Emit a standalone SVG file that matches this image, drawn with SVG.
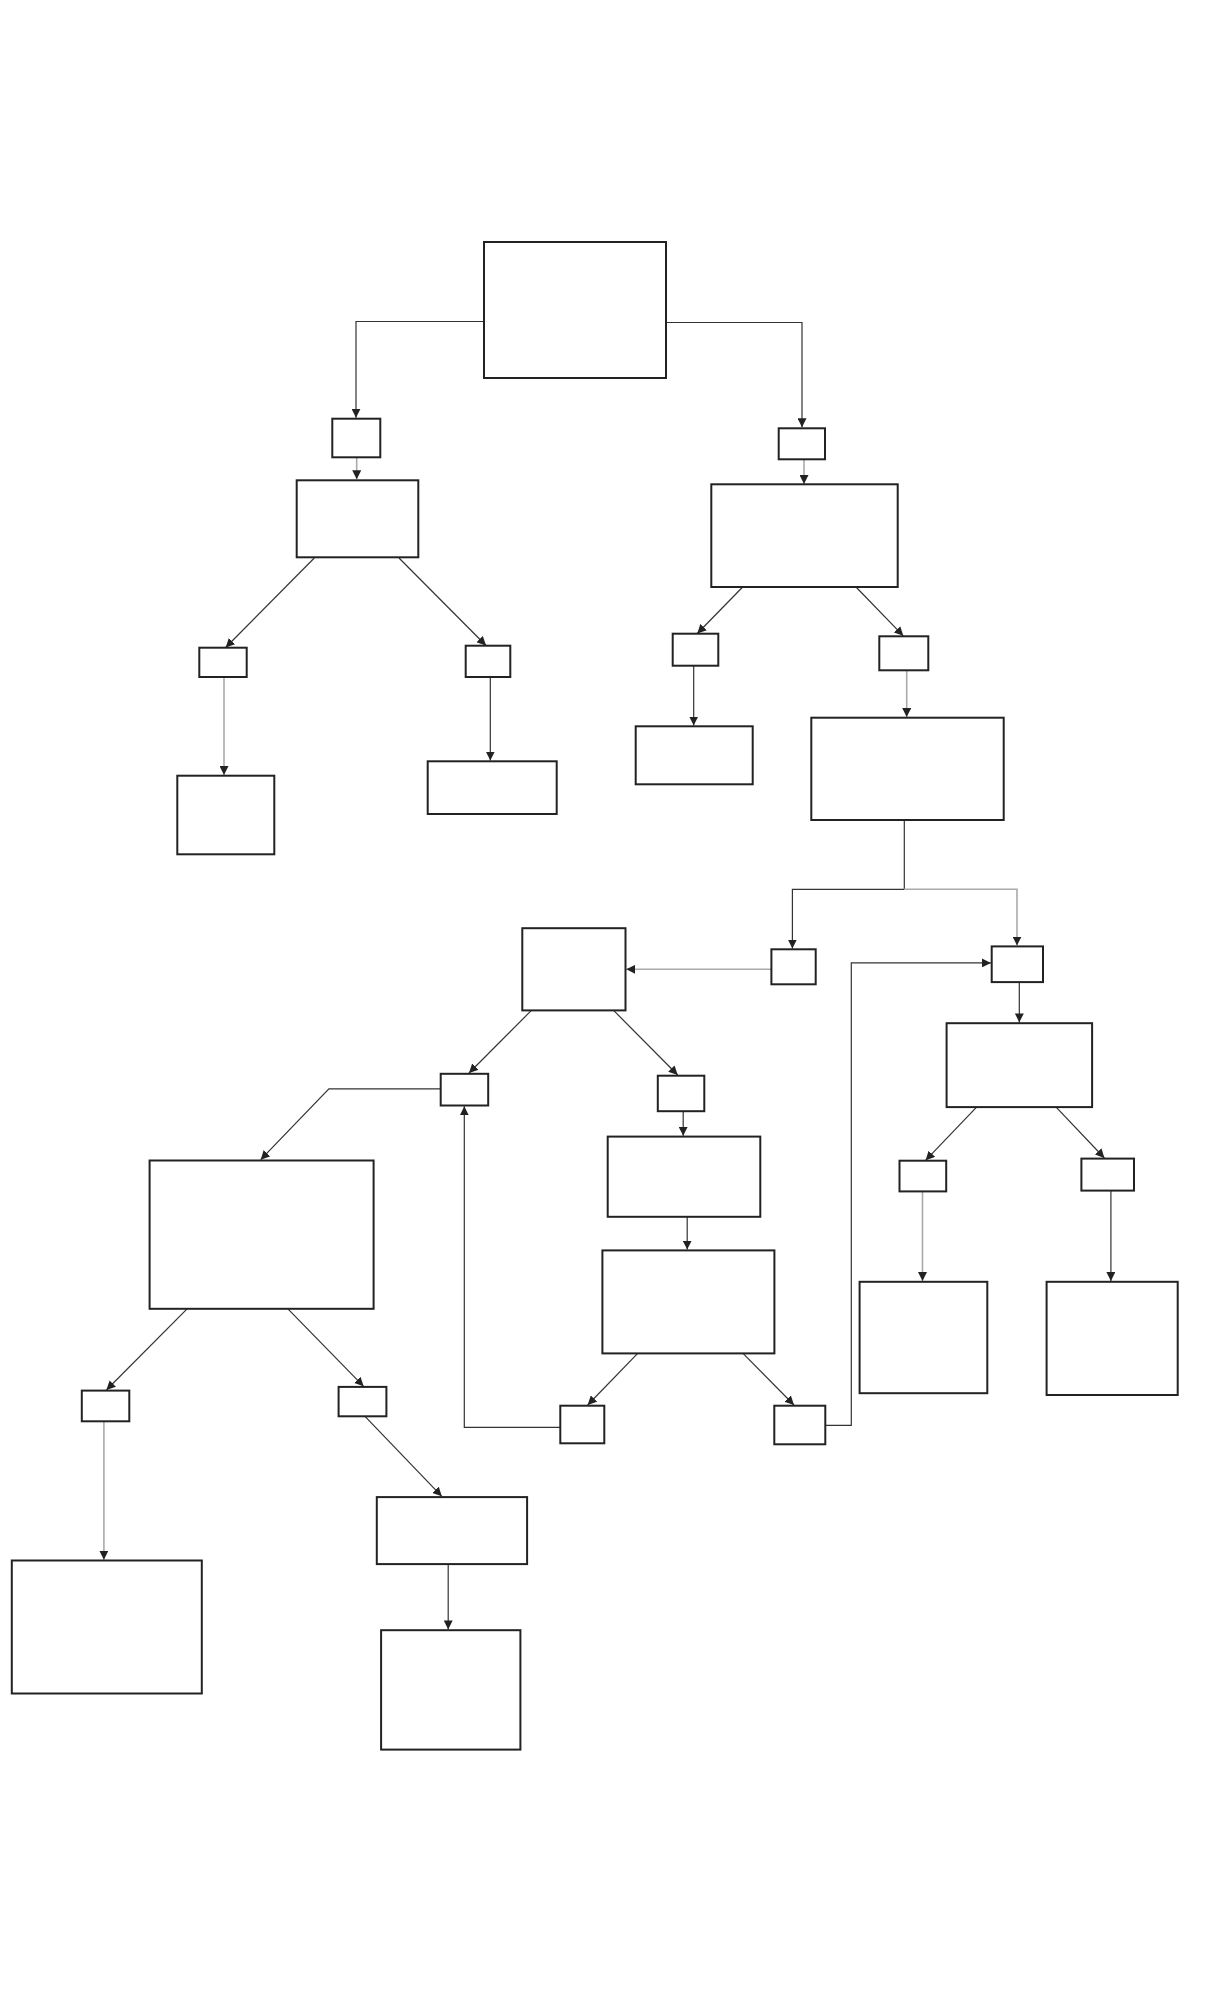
<svg xmlns="http://www.w3.org/2000/svg" width="1224" height="2016" viewBox="0 0 1224 2016">
<style>
.box{fill:#fff;stroke:#222;stroke-width:2}
.c{fill:none;stroke:#333;stroke-width:1.2}
.g{fill:none;stroke:#aaa;stroke-width:1.6}
</style>
<defs>
<marker id="ah" viewBox="0 0 10 10" refX="10" refY="5" markerWidth="9" markerHeight="9" markerUnits="userSpaceOnUse" orient="auto">
<path d="M0,0 L10,5 L0,10 z" fill="#222"/>
</marker>
</defs>
<rect width="1224" height="2016" fill="#fff"/>
<g id="connectors">
<path class="c" marker-end="url(#ah)" d="M484,321.5 H356 V417.7"/>
<path class="c" marker-end="url(#ah)" d="M666,322.5 H802 V427.3"/>
<path class="g" marker-end="url(#ah)" d="M356.7,457.3 V479.3"/>
<path class="c" marker-end="url(#ah)" d="M314.3,558 L225.7,647.5"/>
<path class="c" marker-end="url(#ah)" d="M399,558 L486,645.5"/>
<path class="g" marker-end="url(#ah)" d="M224,677 V775"/>
<path class="c" marker-end="url(#ah)" d="M490.3,677 V760.5"/>
<path class="g" marker-end="url(#ah)" d="M804,459.3 V484"/>
<path class="c" marker-end="url(#ah)" d="M742.7,587 L697.3,633.5"/>
<path class="c" marker-end="url(#ah)" d="M856,587 L903.3,635.8"/>
<path class="c" marker-end="url(#ah)" d="M693.7,666 V725.5"/>
<path class="g" marker-end="url(#ah)" d="M906.7,670.3 V717"/>
<path class="c" d="M904.3,820 V889.3"/>
<path class="c" marker-end="url(#ah)" d="M904.3,889.3 H792.4 V948.5"/>
<path class="g" marker-end="url(#ah)" d="M904.3,889.3 H1017 V945.6"/>
<path class="g" marker-end="url(#ah)" d="M771.4,969.3 H626.3"/>
<path class="c" marker-end="url(#ah)" d="M1019.3,982.1 V1022.4"/>
<path class="c" marker-end="url(#ah)" d="M976.6,1107.1 L925.6,1160.3"/>
<path class="c" marker-end="url(#ah)" d="M1056.1,1107.1 L1104.4,1158"/>
<path class="g" marker-end="url(#ah)" d="M922.5,1191.4 V1281"/>
<path class="c" marker-end="url(#ah)" d="M1110.9,1190.6 V1281"/>
<path class="c" marker-end="url(#ah)" d="M531.4,1010.4 L469,1073"/>
<path class="c" marker-end="url(#ah)" d="M613.6,1010.4 L677.7,1075"/>
<path class="c" marker-end="url(#ah)" d="M683.2,1111.2 V1135.8"/>
<path class="c" marker-end="url(#ah)" d="M687.2,1216.8 V1249.6"/>
<path class="c" marker-end="url(#ah)" d="M637.7,1353.4 L587.7,1405"/>
<path class="c" marker-end="url(#ah)" d="M743,1353.4 L794,1405"/>
<path class="c" marker-end="url(#ah)" d="M560.3,1427.3 H464.3 V1106.3"/>
<path class="c" marker-end="url(#ah)" d="M825.3,1425.3 H851.3 V962.9 H990.9"/>
<path class="c" marker-end="url(#ah)" d="M440.7,1088.9 H328.9 L260.7,1159.7"/>
<path class="c" marker-end="url(#ah)" d="M187.1,1308.8 L106.4,1390"/>
<path class="c" marker-end="url(#ah)" d="M287.9,1308.8 L363.6,1386.3"/>
<path class="g" marker-end="url(#ah)" d="M103.9,1421.3 V1559.8"/>
<path class="c" marker-end="url(#ah)" d="M365,1416.3 L441.8,1496.3"/>
<path class="c" marker-end="url(#ah)" d="M448.2,1564.1 V1629.4"/>
</g>
<g id="n-top"><rect class="box" x="484" y="242" width="182" height="136"/></g>
<g id="n-l1"><rect class="box" x="332.3" y="418.7" width="48" height="38.6"/></g>
<g id="n-l2"><rect class="box" x="296.7" y="480.3" width="121.6" height="77"/></g>
<g id="n-l3a"><rect class="box" x="199.3" y="647.7" width="47.4" height="29.3"/></g>
<g id="n-l3b"><rect class="box" x="465.7" y="645.7" width="44.6" height="31.3"/></g>
<g id="n-l4a"><rect class="box" x="177.3" y="775.7" width="97" height="78.6"/></g>
<g id="n-l4b"><rect class="box" x="427.7" y="761.3" width="129" height="52.7"/></g>
<g id="n-r1"><rect class="box" x="778.7" y="428.3" width="46.3" height="31"/></g>
<g id="n-r2"><rect class="box" x="711.3" y="484.3" width="186.4" height="102.7"/></g>
<g id="n-r3a"><rect class="box" x="672.7" y="633.7" width="45.6" height="32"/></g>
<g id="n-r3b"><rect class="box" x="879.3" y="636.3" width="49" height="34"/></g>
<g id="n-r4a"><rect class="box" x="635.7" y="726.3" width="117" height="58"/></g>
<g id="n-r4b"><rect class="box" x="811.3" y="717.7" width="192.4" height="102.3"/></g>
<g id="n-m1"><rect class="box" x="771.4" y="949.3" width="44.3" height="35"/></g>
<g id="n-c"><rect class="box" x="522.3" y="928.2" width="103.2" height="82.2"/></g>
<g id="n-n1"><rect class="box" x="991.7" y="946.4" width="51.3" height="35.7"/></g>
<g id="n-n2"><rect class="box" x="946.6" y="1023.2" width="145.5" height="83.9"/></g>
<g id="n-n3a"><rect class="box" x="899.5" y="1160.7" width="46.7" height="30.7"/></g>
<g id="n-n3b"><rect class="box" x="1081.4" y="1158.6" width="52.6" height="32"/></g>
<g id="n-n4a"><rect class="box" x="859.6" y="1281.8" width="127.7" height="111.4"/></g>
<g id="n-n4b"><rect class="box" x="1046.6" y="1281.8" width="131.1" height="113.2"/></g>
<g id="n-c2a"><rect class="box" x="657.8" y="1075.7" width="46.5" height="35.5"/></g>
<g id="n-c3"><rect class="box" x="607.7" y="1136.6" width="152.6" height="80.2"/></g>
<g id="n-c4"><rect class="box" x="602.4" y="1250.4" width="172" height="103"/></g>
<g id="n-c5a"><rect class="box" x="560.3" y="1405.7" width="44" height="37.6"/></g>
<g id="n-c5b"><rect class="box" x="774.3" y="1405.7" width="51" height="38.6"/></g>
<g id="n-m2"><rect class="box" x="440.7" y="1073.8" width="47.5" height="31.7"/></g>
<g id="n-b1"><rect class="box" x="149.6" y="1160.5" width="224" height="148.3"/></g>
<g id="n-b2a"><rect class="box" x="81.8" y="1390.6" width="47.5" height="30.7"/></g>
<g id="n-b2b"><rect class="box" x="338.6" y="1386.9" width="47.8" height="29.4"/></g>
<g id="n-b3a"><rect class="box" x="11.8" y="1560.5" width="190" height="133"/></g>
<g id="n-b3b"><rect class="box" x="376.8" y="1497.1" width="150.3" height="67"/></g>
<g id="n-b4"><rect class="box" x="381.1" y="1630.2" width="139.3" height="119.4"/></g>
</svg>
